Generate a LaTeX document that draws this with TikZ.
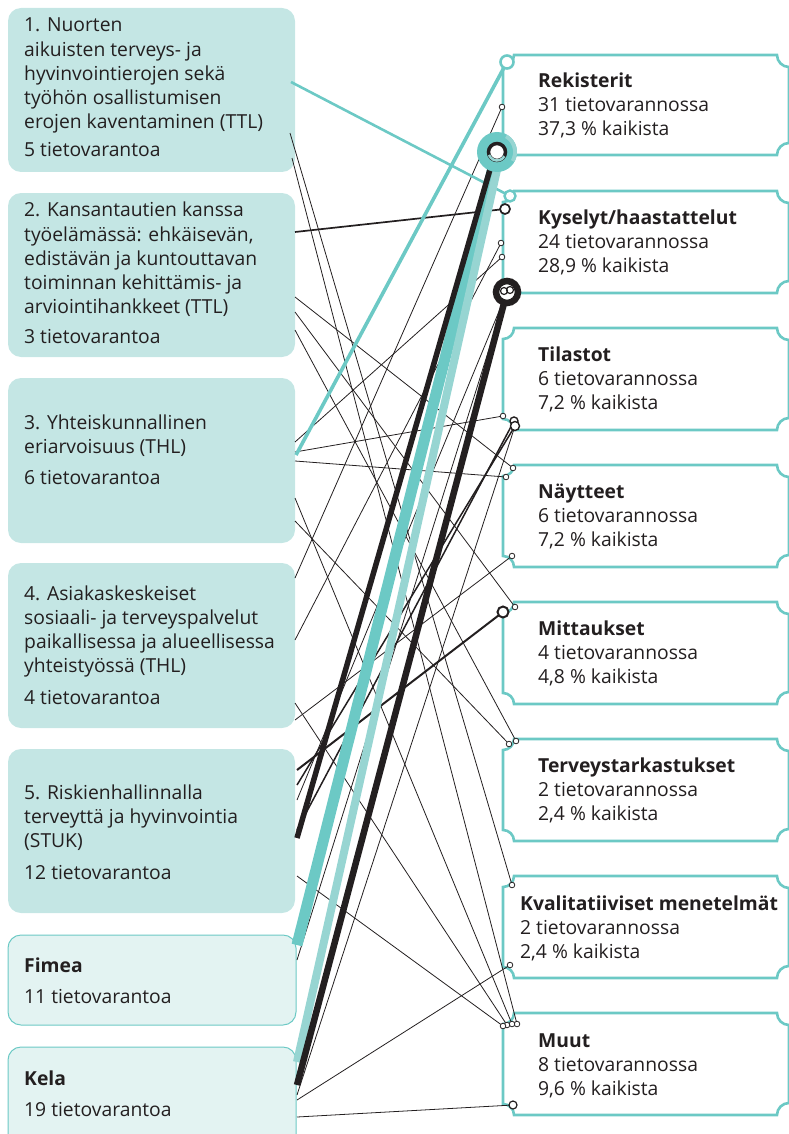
\documentclass[tikz,border=0pt]{standalone}
\usepackage{fontspec}
\setmainfont{Open Sans}
\definecolor{teal1}{HTML}{6CC9C5}
\definecolor{teall}{HTML}{97D5D2}
\definecolor{boxfill}{HTML}{C4E6E4}
\definecolor{paleFill}{HTML}{E3F3F2}
\definecolor{ink}{HTML}{231F20}
\newcommand\ticketbox[2]{% top, bottom (positive px)
  \draw[tborder] (514,-#1) -- (777,-#1) arc[start angle=180,end angle=270,radius=12]
    -- (789,-#2+12) arc[start angle=90,end angle=180,radius=12]
    -- (514,-#2) arc[start angle=0,end angle=90,radius=11]
    -- (503,-#1-11) arc[start angle=270,end angle=360,radius=11] -- cycle;}
\begin{document}
\begin{tikzpicture}[x=1pt,y=1pt,
  lbox/.style={fill=boxfill, draw=none, rounded corners=13pt},
  pbox/.style={fill=paleFill, draw=teal1, line width=1pt, rounded corners=13pt},
  tborder/.style={draw=teal1, line width=2.6pt, fill=white},
  txt/.style={anchor=north west, inner sep=0pt, align=left, text=ink,
    font=\fontsize{19.3}{24.2}\selectfont},
  thin/.style={draw=ink, line width=0.8pt},
  med/.style={draw=ink, line width=1.7pt},
  ringt/.style={draw=ink, line width=0.8pt, fill=white},
  ringm/.style={draw=ink, line width=1.7pt, fill=white}]
\useasboundingbox (0,0) rectangle (788,-1134);
% left boxes
\fill[lbox] (8,-8) rectangle (295,-172);
\fill[lbox] (8,-193) rectangle (295,-357);
\fill[lbox] (8,-378) rectangle (295,-543);
\fill[lbox] (8,-563) rectangle (295,-728);
\fill[lbox] (8,-749) rectangle (295,-913);
\draw[pbox] (8,-935) rectangle (296,-1025);
\draw[pbox] (8,-1047) rectangle (296,-1150);
% right boxes
\ticketbox{55}{155}
\ticketbox{191}{293}
\ticketbox{328}{430}
\ticketbox{465}{567}
\ticketbox{602}{704}
\ticketbox{739}{841}
\ticketbox{876}{978}
\ticketbox{1013}{1115}
% endpoints
\coordinate (La) at (291,-82);   \coordinate (Ra) at (510,-196);
\coordinate (Lb) at (296,-455);  \coordinate (Rb) at (507,-62);
\coordinate (Lc) at (297,-945);  \coordinate (Rc) at (497,-152);
\coordinate (Ld) at (297,-1062); \coordinate (Rd) at (501,-152);
\coordinate (Le) at (297,-838);  \coordinate (Re) at (495,-152);
\coordinate (Lf) at (297,-1085); \coordinate (Rf) at (507,-292);
\coordinate (M1a) at (295,-232); \coordinate (M1b) at (505,-209);
\coordinate (M2a) at (297,-770); \coordinate (M2b) at (503,-612);
\coordinate (M3a) at (297,-830); \coordinate (M3b) at (514,-421);
\coordinate (M4a) at (297,-785); \coordinate (M4b) at (515,-426);
\coordinate (t1a) at (290,-133); \coordinate (t1b) at (512,-885);
\coordinate (t2a) at (292,-158); \coordinate (t2b) at (517,-1024);
\coordinate (t3a) at (295,-297); \coordinate (t3b) at (513,-468);
\coordinate (t4a) at (295,-312); \coordinate (t4b) at (515,-607);
\coordinate (t5a) at (295,-330); \coordinate (t5b) at (516,-741);
\coordinate (t6a) at (295,-452); \coordinate (t6b) at (503,-416);
\coordinate (t7a) at (295,-461); \coordinate (t7b) at (506,-477);
\coordinate (t8a) at (295,-442); \coordinate (t8b) at (502,-257);
\coordinate (t9a) at (295,-521); \coordinate (t9b) at (509,-744);
\coordinate (t10a) at (295,-498); \coordinate (t10b) at (512,-1024);
\coordinate (t11a) at (295,-578); \coordinate (t11b) at (502,-107);
\coordinate (t12a) at (295,-640); \coordinate (t12b) at (501,-243);
\coordinate (t13a) at (295,-720); \coordinate (t13b) at (512,-556);
\coordinate (t14a) at (295,-703); \coordinate (t14b) at (507,-1025);
\coordinate (t15a) at (297,-876); \coordinate (t15b) at (503,-1026);
\coordinate (t16a) at (297,-960); 
\coordinate (t17a) at (297,-1095);
\coordinate (t18a) at (297,-1100); \coordinate (t18b) at (510,-965);
\coordinate (t19a) at (297,-1117); \coordinate (t19b) at (513,-1105);
\coordinate (t20a) at (297,-800);
% thin lines
\foreach \i in {1,...,15,18,19} {\draw[thin] (t\i a) -- (t\i b);}
\draw[thin] (t16a) -- (Rf);
\draw[thin] (t20a) -- (Rf);
\draw[thin] (t17a) -- (M4b);
% medium
\draw[med] (M1a) -- (M1b);
\draw[med, line width=2pt] (M2a) -- (M2b);
\draw[med, line width=1.5pt] (M3a) -- (M3b);
\draw[med, line width=1.5pt] (M4a) -- (M4b);
% thick
\draw[teal1, line width=2.6pt] (La) -- (Ra);
\draw[teal1, line width=3.6pt] (Lb) -- (Rb);
\draw[teal1, line width=11pt] (Lc) -- (Rc);
\draw[teall, line width=8pt] (Ld) -- (Rd);
\draw[ink, line width=5.5pt] (Le) -- (Re);
\draw[ink, line width=6.5pt] (Lf) -- (Rf);
% rings
\foreach \i in {1,...,15,18} {\draw[ringt] (t\i b) circle (2.8);}
\draw[ringt, line width=1.2pt] (t19b) circle (4);
\draw[ringm] (M1b) circle (5);
\draw[ringm, line width=2pt] (M2b) circle (5.5);
\draw[ringm, line width=1.4pt] (M3b) circle (4);
\draw[ringm, line width=1.4pt] (M4b) circle (4.5);
\draw[draw=teal1, line width=2.4pt, fill=white] (Ra) circle (5.5);
\draw[draw=teal1, line width=2.6pt, fill=white] (Rb) circle (6.5);
\fill[teal1] (Rc) circle (20);
\fill[teall] (Rc) ++(-30:20) arc[start angle=-30,end angle=60,radius=20] -- (Rc) -- cycle;
\fill[teal1] (Rc) circle (16);
\draw[ink, line width=3.5pt, fill=white] (Rc) circle (8.5);
\draw[teall, line width=2.5pt] (Rc) ++(200:8.5) arc[start angle=200,end angle=330,radius=8.5];
\draw[ink, line width=6.5pt, fill=white] (Rf) circle (11);
\draw[ink, line width=1.2pt] (504,-291) circle (3.5);
\draw[ink, line width=1.2pt] (510,-290) circle (3.5);
% left texts
\node[txt] (n1) at (24,-14.7) {\strut 1. Nuorten\\aikuisten terveys- ja\\hyvinvointierojen sekä\\työhön osallistumisen\\erojen kaventaminen (TTL)\\[4pt]5 tietovarantoa};
\node[txt] (n2) at (24,-199.7) {\strut 2. Kansantautien kanssa\\työelämässä: ehkäisevän,\\edistävän ja kuntouttavan\\toiminnan kehittämis- ja\\arviointihankkeet (TTL)\\[6pt]3 tietovarantoa};
\node[txt] (n3) at (24,-412.2) {\strut 3. Yhteiskunnallinen\\eriarvoisuus (THL)\\[7pt]6 tietovarantoa};
\node[txt] (n4) at (24,-583.2) {\strut 4. Asiakaskeskeiset\\sosiaali- ja terveyspalvelut\\paikallisessa ja alueellisessa\\yhteistyössä (THL)\\[7pt]4 tietovarantoa};
\node[txt] (n5) at (24,-782.2) {\strut 5. Riskienhallinnalla\\terveyttä ja hyvinvointia\\(STUK)\\[8pt]12 tietovarantoa};
\node[txt] (n6) at (24,-955.2) {\strut\textbf{Fimea}\\[7pt]11 tietovarantoa};
\node[txt] (n7) at (24,-1068.2) {\strut\textbf{Kela}\\[7pt]19 tietovarantoa};
% right texts
\node[txt] (r1) at (538,-70.2) {\strut\textbf{Rekisterit}\\31 tietovarannossa\\37,3 \% kaikista};
\node[txt] (r2) at (538,-207.2) {\strut\textbf{Kyselyt/haastattelut}\\24 tietovarannossa\\28,9 \% kaikista};
\node[txt] (r3) at (538,-344.2) {\strut\textbf{Tilastot}\\6 tietovarannossa\\7,2 \% kaikista};
\node[txt] (r4) at (538,-481.2) {\strut\textbf{Näytteet}\\6 tietovarannossa\\7,2 \% kaikista};
\node[txt] (r5) at (538,-618.2) {\strut\textbf{Mittaukset}\\4 tietovarannossa\\4,8 \% kaikista};
\node[txt] (r6) at (538,-755.2) {\strut\textbf{Terveystarkastukset}\\2 tietovarannossa\\2,4 \% kaikista};
\node[txt] (r7) at (520,-893.2) {\strut\textbf{Kvalitatiiviset menetelmät}\\2 tietovarannossa\\2,4 \% kaikista};
\node[txt] (r8) at (538,-1030.2) {\strut\textbf{Muut}\\8 tietovarannossa\\9,6 \% kaikista};
\end{tikzpicture}
\end{document}
